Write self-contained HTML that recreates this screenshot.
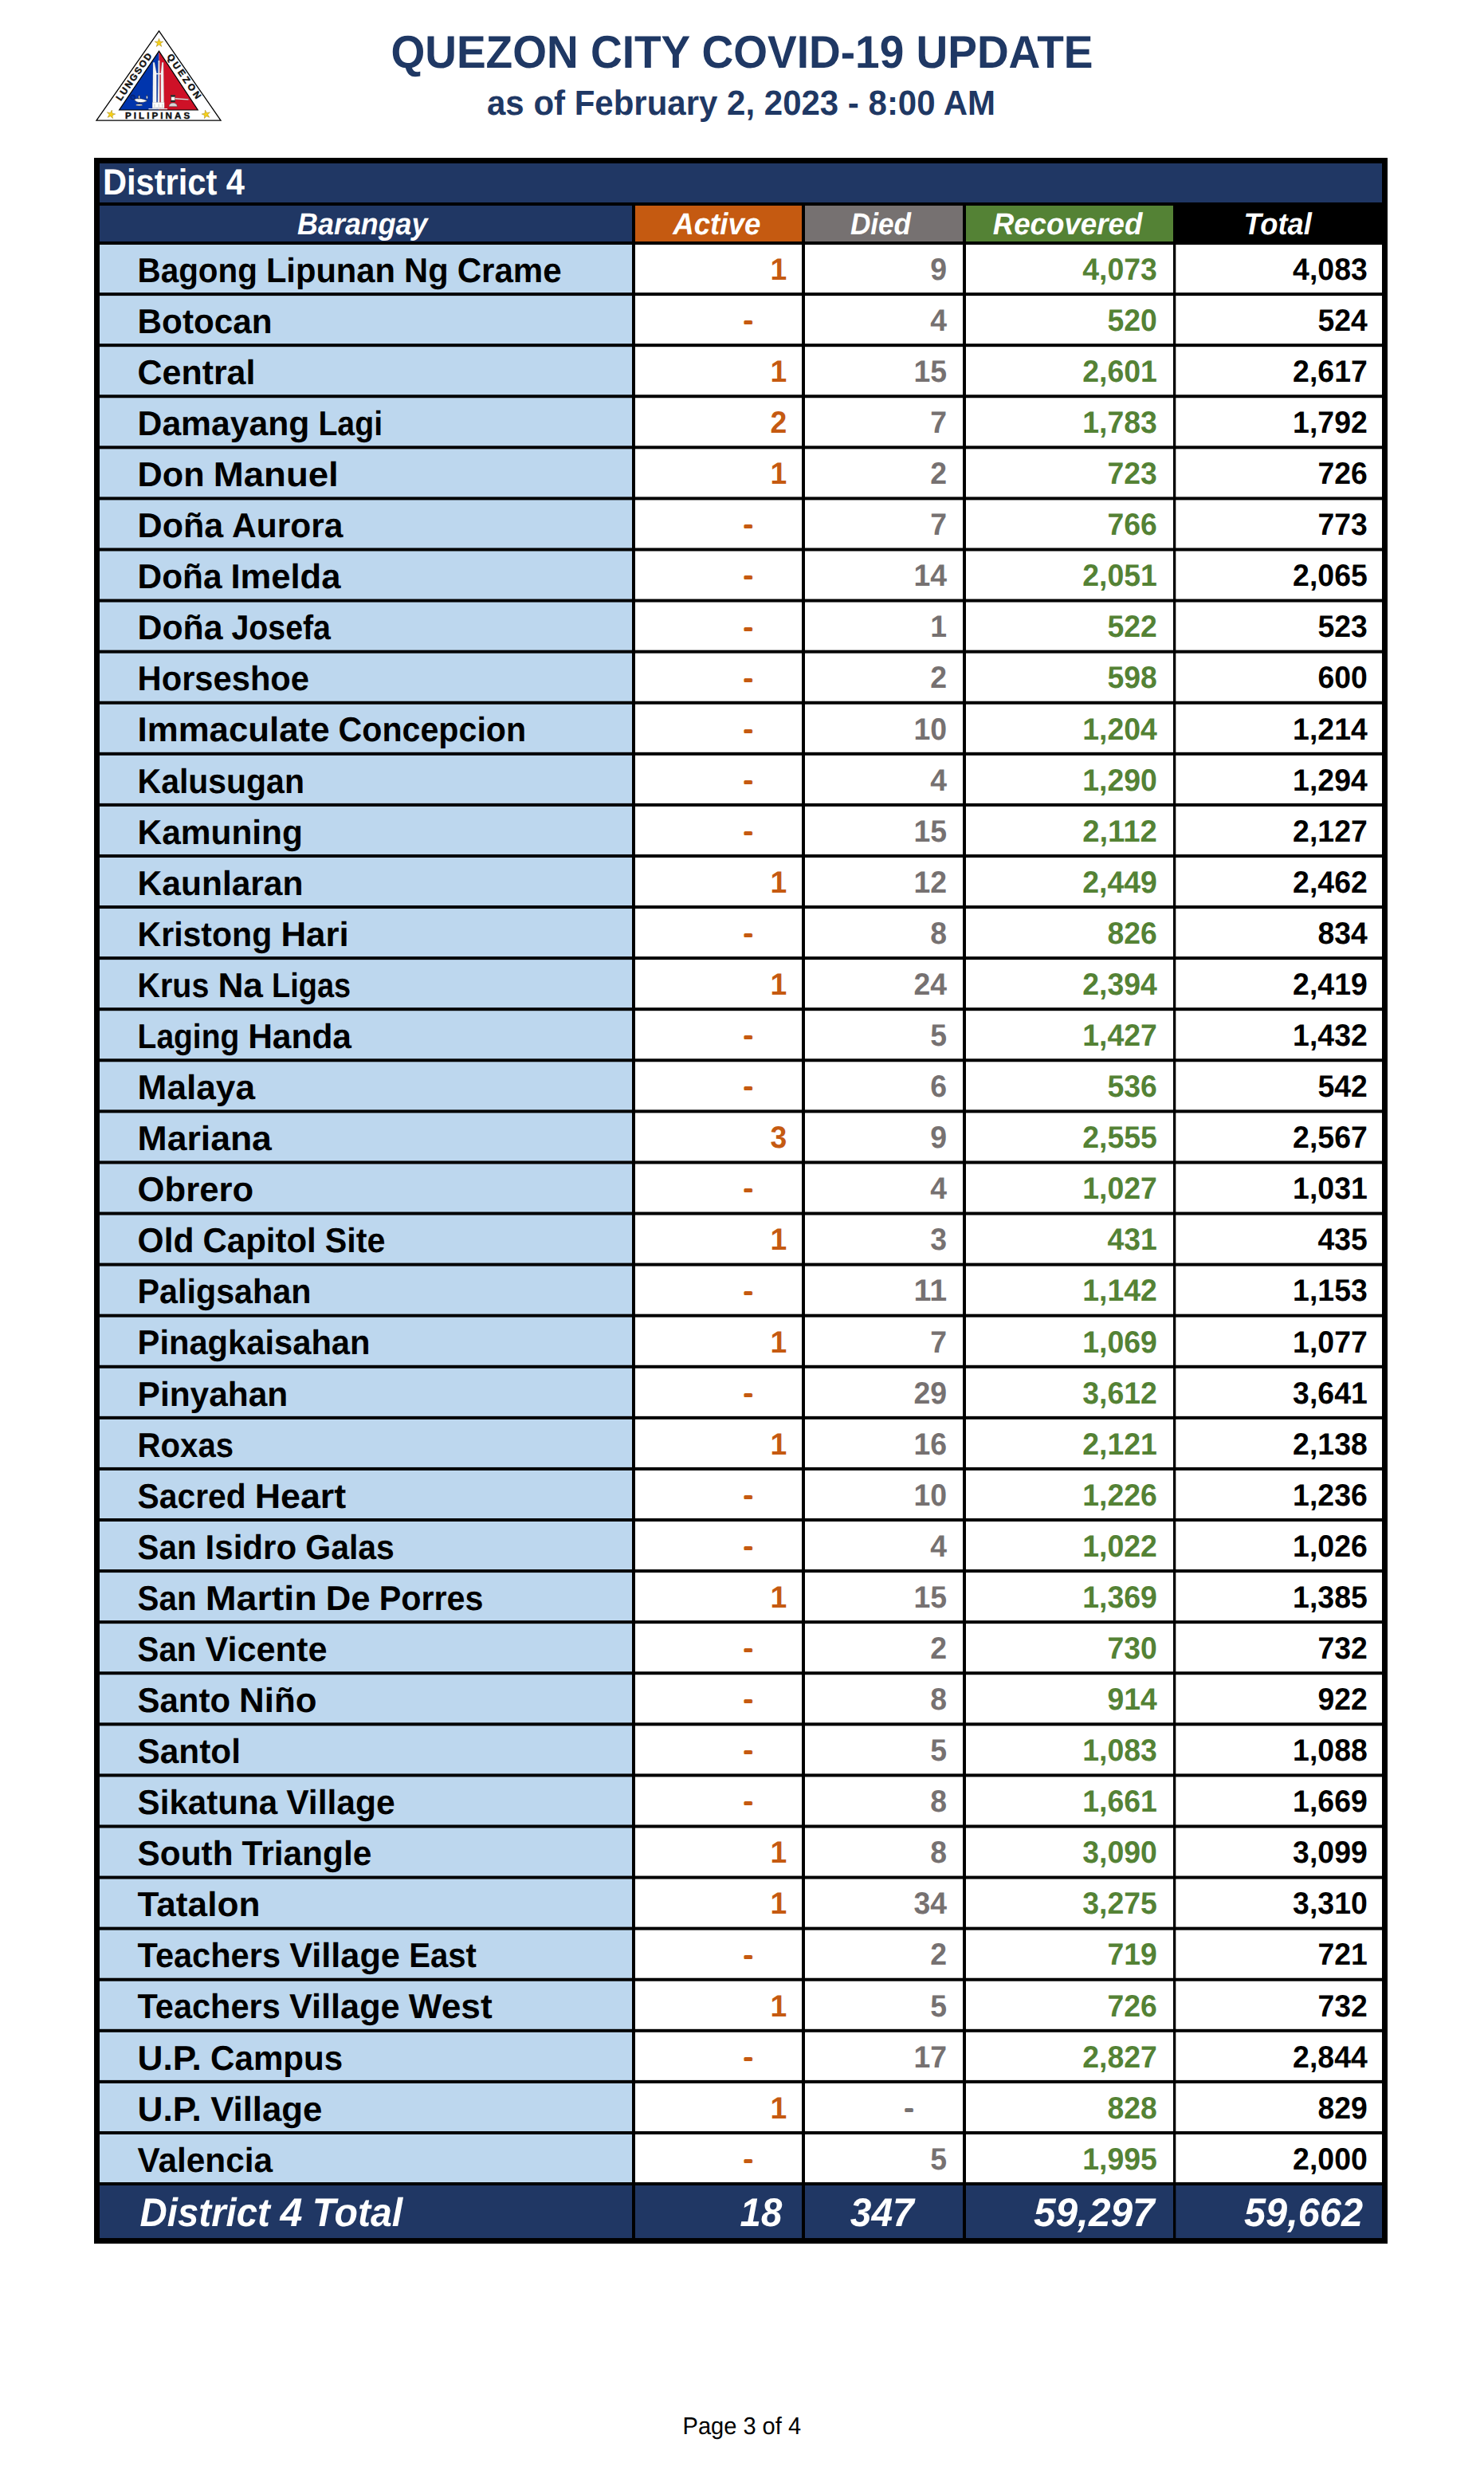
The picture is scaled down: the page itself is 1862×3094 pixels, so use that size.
<!DOCTYPE html>
<html lang="en">
<head>
<meta charset="utf-8">
<title>Quezon City COVID-19 Update - District 4</title>
<style>
html,body{margin:0;padding:0;background:#fff;}
body{width:1862px;height:3094px;overflow:hidden;}
svg{display:block;}
svg text{font-family:"Liberation Sans",sans-serif;font-weight:bold;white-space:pre;}
</style>
</head>
<body>
<svg width="1862" height="3094" viewBox="0 0 1862 3094" text-rendering="geometricPrecision">
<rect x="0" y="0" width="1862" height="3094" fill="#fff"/>
<g shape-rendering="geometricPrecision">
<polygon points="199.5,38.9 277.0,151.2 121.0,151.2" fill="#fff" stroke="#000" stroke-width="1.3" stroke-linejoin="miter"/>
<polygon points="199.5,64.2 199.5,138.0 149.6,138.0" fill="#0035AD"/>
<polygon points="199.5,64.2 248.2,138.0 199.5,138.0" fill="#CE1127"/>
<polygon points="199.5,64.2 248.2,138.0 149.6,138.0" fill="none" stroke="#000" stroke-width="1.2" stroke-linejoin="miter"/>
<g fill="#fff" stroke="#9a9a9a" stroke-width="0.35">
<polygon points="192.1,78.3 193.8,78.3 196.3,91 196.3,135.6 191.6,135.6"/>
<polygon points="198.6,75.9 200.3,75.9 200.3,135.6 197.8,135.6"/>
<polygon points="203.3,78.3 205.0,78.3 205.8,135.6 201.9,135.6 201.9,91"/>
</g>
<path d="M196,92.6 h6" stroke="#fff" stroke-width="1.4" fill="none"/>
<path d="M193.9,80 V134 M204.2,80 V134 M199.4,78 V134" stroke="#b8b8b8" stroke-width="0.35" fill="none"/>
<rect x="191.2" y="128.4" width="14.9" height="7.2" fill="#fff" stroke="#9a9a9a" stroke-width="0.3"/>
<path d="M194,130.5 v4 M199.2,130.5 v4 M203.8,130.5 v4" stroke="#bbb" stroke-width="0.8"/>
<rect x="186.4" y="136.0" width="23.6" height="1.2" fill="#e8e8f0"/>
<g stroke="#111" stroke-width="0.45" fill="#fff">
<circle cx="166.5" cy="121.9" r="2.9" fill="none" stroke="#0b0b2a" stroke-width="0.55"/>
<path d="M166.6,123.4 a1.5,1.5 0 1 1 1.4,-1.2" fill="none" stroke="#0b0b2a" stroke-width="0.4"/>
<path d="M168.6,124.9 C171,123.4 173,124.0 174.2,123.8 L175.6,123.8 C178,123.8 181,124.6 184.9,126.4 C182.6,127.4 180.6,128.5 176.6,128.6 C172.6,128.6 169.8,127.2 168.6,124.9 Z"/>
<rect x="173.7" y="120.0" width="1.8" height="3.9" fill="#ddd"/>
<path d="M174.7,128.6 L174.7,130.6" stroke="#111" stroke-width="0.9" fill="none"/>
<ellipse cx="174.7" cy="131.7" rx="4.2" ry="1.0"/>
<path d="M184.3,118.9 C185.6,120.8 185.6,123.0 184.4,124.4 C183.2,123.0 183.3,120.8 184.3,118.9 Z" stroke-width="0.3"/>
<path d="M184.3,118.9 L184.9,120.8 L183.8,120.8 Z" fill="#222" stroke="none"/>
</g>
<g stroke="#222" stroke-width="0.4">
<rect x="214.7" y="119.5" width="5.0" height="8.3" fill="#e8e8e8"/>
<rect x="214.7" y="119.5" width="5.0" height="1.8" fill="#222"/>
<rect x="214.7" y="126.0" width="5.0" height="1.8" fill="#222"/>
<rect x="215.5" y="122.1" width="3.4" height="3.1" fill="#fff" stroke="none"/>
<polygon points="219.7,122.9 236.4,124.2 236.4,125.4 219.7,124.5" fill="#eee" stroke="#888" stroke-width="0.3"/>
<path d="M211.8,133.7 C212.2,130.6 214.2,129.1 217.2,129.1 C220.2,129.1 222.1,130.6 222.5,133.7 Z" fill="#d6d6d6"/>
</g>
<polygon points="199.50,48.30 200.76,52.17 204.83,52.17 201.53,54.56 202.79,58.43 199.50,56.04 196.21,58.43 197.47,54.56 194.17,52.17 198.24,52.17" fill="#F7D117" stroke="#8a6d00" stroke-width="0.4"/>
<polygon points="140.36,138.12 140.79,142.17 144.77,143.01 141.05,144.67 141.48,148.72 138.76,145.69 135.04,147.35 137.07,143.82 134.35,140.80 138.33,141.65" fill="#F7D117" stroke="#8a6d00" stroke-width="0.4"/>
<polygon points="257.44,138.12 259.47,141.65 263.45,140.80 260.73,143.82 262.76,147.35 259.04,145.69 256.32,148.72 256.75,144.67 253.03,143.01 257.01,142.17" fill="#F7D117" stroke="#8a6d00" stroke-width="0.4"/>
<text x="156.9" y="149.0" font-size="11.6" fill="#111" stroke="#111" stroke-width="0.45" lengthAdjust="spacing" textLength="81.3">PILIPINAS</text>
<text transform="translate(151.5,127.3) rotate(-55.3)" x="0" y="0" font-size="11.7" fill="#111" stroke="#111" stroke-width="0.45" lengthAdjust="spacing" textLength="69.5">LUNGSOD</text>
<text transform="translate(208.9,71.1) rotate(55.3)" x="0" y="0" font-size="11.7" fill="#111" stroke="#111" stroke-width="0.45" lengthAdjust="spacing" textLength="65.5">QUEZON</text>
</g>
<rect x="118" y="198" width="1623" height="2617" fill="#000"/>
<rect x="125" y="205" width="1609" height="49" fill="#203764"/>
<rect x="125" y="258" width="668" height="45" fill="#203764"/>
<rect x="797" y="258" width="209" height="45" fill="#C55A11"/>
<rect x="1010" y="258" width="198" height="45" fill="#767171"/>
<rect x="1212" y="258" width="260" height="45" fill="#548235"/>
<rect x="125" y="307" width="668" height="60.08" fill="#BDD7EE"/>
<rect x="797" y="307" width="937" height="60.08" fill="#fff"/>
<rect x="125" y="371.08" width="668" height="60.08" fill="#BDD7EE"/>
<rect x="797" y="371.08" width="937" height="60.08" fill="#fff"/>
<rect x="125" y="435.16" width="668" height="60.08" fill="#BDD7EE"/>
<rect x="797" y="435.16" width="937" height="60.08" fill="#fff"/>
<rect x="125" y="499.24" width="668" height="60.08" fill="#BDD7EE"/>
<rect x="797" y="499.24" width="937" height="60.08" fill="#fff"/>
<rect x="125" y="563.32" width="668" height="60.08" fill="#BDD7EE"/>
<rect x="797" y="563.32" width="937" height="60.08" fill="#fff"/>
<rect x="125" y="627.4" width="668" height="60.08" fill="#BDD7EE"/>
<rect x="797" y="627.4" width="937" height="60.08" fill="#fff"/>
<rect x="125" y="691.48" width="668" height="60.08" fill="#BDD7EE"/>
<rect x="797" y="691.48" width="937" height="60.08" fill="#fff"/>
<rect x="125" y="755.56" width="668" height="60.08" fill="#BDD7EE"/>
<rect x="797" y="755.56" width="937" height="60.08" fill="#fff"/>
<rect x="125" y="819.64" width="668" height="60.08" fill="#BDD7EE"/>
<rect x="797" y="819.64" width="937" height="60.08" fill="#fff"/>
<rect x="125" y="883.72" width="668" height="60.08" fill="#BDD7EE"/>
<rect x="797" y="883.72" width="937" height="60.08" fill="#fff"/>
<rect x="125" y="947.8" width="668" height="60.08" fill="#BDD7EE"/>
<rect x="797" y="947.8" width="937" height="60.08" fill="#fff"/>
<rect x="125" y="1011.88" width="668" height="60.08" fill="#BDD7EE"/>
<rect x="797" y="1011.88" width="937" height="60.08" fill="#fff"/>
<rect x="125" y="1075.96" width="668" height="60.08" fill="#BDD7EE"/>
<rect x="797" y="1075.96" width="937" height="60.08" fill="#fff"/>
<rect x="125" y="1140.04" width="668" height="60.08" fill="#BDD7EE"/>
<rect x="797" y="1140.04" width="937" height="60.08" fill="#fff"/>
<rect x="125" y="1204.12" width="668" height="60.08" fill="#BDD7EE"/>
<rect x="797" y="1204.12" width="937" height="60.08" fill="#fff"/>
<rect x="125" y="1268.2" width="668" height="60.08" fill="#BDD7EE"/>
<rect x="797" y="1268.2" width="937" height="60.08" fill="#fff"/>
<rect x="125" y="1332.28" width="668" height="60.08" fill="#BDD7EE"/>
<rect x="797" y="1332.28" width="937" height="60.08" fill="#fff"/>
<rect x="125" y="1396.36" width="668" height="60.08" fill="#BDD7EE"/>
<rect x="797" y="1396.36" width="937" height="60.08" fill="#fff"/>
<rect x="125" y="1460.44" width="668" height="60.08" fill="#BDD7EE"/>
<rect x="797" y="1460.44" width="937" height="60.08" fill="#fff"/>
<rect x="125" y="1524.52" width="668" height="60.08" fill="#BDD7EE"/>
<rect x="797" y="1524.52" width="937" height="60.08" fill="#fff"/>
<rect x="125" y="1588.6" width="668" height="60.08" fill="#BDD7EE"/>
<rect x="797" y="1588.6" width="937" height="60.08" fill="#fff"/>
<rect x="125" y="1652.68" width="668" height="60.08" fill="#BDD7EE"/>
<rect x="797" y="1652.68" width="937" height="60.08" fill="#fff"/>
<rect x="125" y="1716.76" width="668" height="60.08" fill="#BDD7EE"/>
<rect x="797" y="1716.76" width="937" height="60.08" fill="#fff"/>
<rect x="125" y="1780.84" width="668" height="60.08" fill="#BDD7EE"/>
<rect x="797" y="1780.84" width="937" height="60.08" fill="#fff"/>
<rect x="125" y="1844.92" width="668" height="60.08" fill="#BDD7EE"/>
<rect x="797" y="1844.92" width="937" height="60.08" fill="#fff"/>
<rect x="125" y="1909" width="668" height="60.08" fill="#BDD7EE"/>
<rect x="797" y="1909" width="937" height="60.08" fill="#fff"/>
<rect x="125" y="1973.08" width="668" height="60.08" fill="#BDD7EE"/>
<rect x="797" y="1973.08" width="937" height="60.08" fill="#fff"/>
<rect x="125" y="2037.16" width="668" height="60.08" fill="#BDD7EE"/>
<rect x="797" y="2037.16" width="937" height="60.08" fill="#fff"/>
<rect x="125" y="2101.24" width="668" height="60.08" fill="#BDD7EE"/>
<rect x="797" y="2101.24" width="937" height="60.08" fill="#fff"/>
<rect x="125" y="2165.32" width="668" height="60.08" fill="#BDD7EE"/>
<rect x="797" y="2165.32" width="937" height="60.08" fill="#fff"/>
<rect x="125" y="2229.4" width="668" height="60.08" fill="#BDD7EE"/>
<rect x="797" y="2229.4" width="937" height="60.08" fill="#fff"/>
<rect x="125" y="2293.48" width="668" height="60.08" fill="#BDD7EE"/>
<rect x="797" y="2293.48" width="937" height="60.08" fill="#fff"/>
<rect x="125" y="2357.56" width="668" height="60.08" fill="#BDD7EE"/>
<rect x="797" y="2357.56" width="937" height="60.08" fill="#fff"/>
<rect x="125" y="2421.64" width="668" height="60.08" fill="#BDD7EE"/>
<rect x="797" y="2421.64" width="937" height="60.08" fill="#fff"/>
<rect x="125" y="2485.72" width="668" height="60.08" fill="#BDD7EE"/>
<rect x="797" y="2485.72" width="937" height="60.08" fill="#fff"/>
<rect x="125" y="2549.8" width="668" height="60.08" fill="#BDD7EE"/>
<rect x="797" y="2549.8" width="937" height="60.08" fill="#fff"/>
<rect x="125" y="2613.88" width="668" height="60.08" fill="#BDD7EE"/>
<rect x="797" y="2613.88" width="937" height="60.08" fill="#fff"/>
<rect x="125" y="2677.96" width="668" height="60.04" fill="#BDD7EE"/>
<rect x="797" y="2677.96" width="937" height="60.04" fill="#fff"/>
<rect x="1006" y="307" width="4" height="2431" fill="#000"/>
<rect x="1208" y="307" width="4" height="2431" fill="#000"/>
<rect x="1472" y="307" width="3.3" height="2431" fill="#000"/>
<rect x="125" y="2742" width="668" height="66" fill="#203764"/>
<rect x="797" y="2742" width="209" height="66" fill="#203764"/>
<rect x="1010" y="2742" width="198" height="66" fill="#203764"/>
<rect x="1212" y="2742" width="260" height="66" fill="#203764"/>
<rect x="1475.3" y="2742" width="258.7" height="66" fill="#203764"/>
<text x="931.0" y="85.0" font-size="57.56" fill="#1F3864" text-anchor="middle" textLength="881.1" lengthAdjust="spacingAndGlyphs">QUEZON CITY COVID-19 UPDATE</text>
<text x="930.0" y="143.5" font-size="43.75" fill="#1F3864" text-anchor="middle" textLength="638.0" lengthAdjust="spacingAndGlyphs">as of February 2, 2023 - 8:00 AM</text>
<text x="128.9" y="244.2" font-size="45.64" fill="#fff" textLength="178.1" lengthAdjust="spacingAndGlyphs">District 4</text>
<text x="454.8" y="293.5" font-size="38.23" fill="#fff" font-style="italic" text-anchor="middle" textLength="163.4" lengthAdjust="spacingAndGlyphs">Barangay</text>
<text x="899.3" y="293.5" font-size="38.23" fill="#fff" font-style="italic" text-anchor="middle" textLength="110.2" lengthAdjust="spacingAndGlyphs">Active</text>
<text x="1105.0" y="293.5" font-size="38.23" fill="#fff" font-style="italic" text-anchor="middle" textLength="76.1" lengthAdjust="spacingAndGlyphs">Died</text>
<text x="1339.5" y="293.5" font-size="38.23" fill="#fff" font-style="italic" text-anchor="middle" textLength="187.7" lengthAdjust="spacingAndGlyphs">Recovered</text>
<text x="1603.2" y="293.5" font-size="38.23" fill="#fff" font-style="italic" text-anchor="middle" textLength="85.4" lengthAdjust="spacingAndGlyphs">Total</text>
<text y="353.7" font-size="43.17" fill="#000"><tspan x="172.6" textLength="150.2" lengthAdjust="spacingAndGlyphs">Bagong</tspan> <tspan x="333.9" textLength="162.1" lengthAdjust="spacingAndGlyphs">Lipunan</tspan> <tspan x="507.1" textLength="55.5" lengthAdjust="spacingAndGlyphs">Ng</tspan> <tspan x="573.7" textLength="131.0" lengthAdjust="spacingAndGlyphs">Crame</tspan></text>
<text x="987.2" y="350.8" font-size="38.68" fill="#C55A11" text-anchor="end" textLength="20.8" lengthAdjust="spacingAndGlyphs">1</text>
<text x="1188.1" y="350.8" font-size="38.68" fill="#767171" text-anchor="end" textLength="20.8" lengthAdjust="spacingAndGlyphs">9</text>
<text x="1451.9" y="350.8" font-size="38.68" fill="#548235" text-anchor="end" textLength="93.7" lengthAdjust="spacingAndGlyphs">4,073</text>
<text x="1715.8" y="350.8" font-size="38.68" fill="#000" text-anchor="end" textLength="93.7" lengthAdjust="spacingAndGlyphs">4,083</text>
<text x="172.6" y="417.8" font-size="43.17" fill="#000" textLength="168.9" lengthAdjust="spacingAndGlyphs">Botocan</text>
<text x="938.8" y="410.0" font-size="21" fill="#C55A11" stroke="#C55A11" stroke-width="2.4" stroke-linejoin="round" text-anchor="middle" textLength="9.6" lengthAdjust="spacingAndGlyphs">-</text>
<text x="1188.1" y="414.9" font-size="38.68" fill="#767171" text-anchor="end" textLength="20.8" lengthAdjust="spacingAndGlyphs">4</text>
<text x="1451.9" y="414.9" font-size="38.68" fill="#548235" text-anchor="end" textLength="62.3" lengthAdjust="spacingAndGlyphs">520</text>
<text x="1715.8" y="414.9" font-size="38.68" fill="#000" text-anchor="end" textLength="62.3" lengthAdjust="spacingAndGlyphs">524</text>
<text x="172.6" y="481.9" font-size="43.17" fill="#000" textLength="147.8" lengthAdjust="spacingAndGlyphs">Central</text>
<text x="987.2" y="479.0" font-size="38.68" fill="#C55A11" text-anchor="end" textLength="20.8" lengthAdjust="spacingAndGlyphs">1</text>
<text x="1188.1" y="479.0" font-size="38.68" fill="#767171" text-anchor="end" textLength="41.6" lengthAdjust="spacingAndGlyphs">15</text>
<text x="1451.9" y="479.0" font-size="38.68" fill="#548235" text-anchor="end" textLength="93.7" lengthAdjust="spacingAndGlyphs">2,601</text>
<text x="1715.8" y="479.0" font-size="38.68" fill="#000" text-anchor="end" textLength="93.7" lengthAdjust="spacingAndGlyphs">2,617</text>
<text y="545.9" font-size="43.17" fill="#000"><tspan x="172.6" textLength="215.7" lengthAdjust="spacingAndGlyphs">Damayang</tspan> <tspan x="399.4" textLength="80.7" lengthAdjust="spacingAndGlyphs">Lagi</tspan></text>
<text x="987.2" y="543.0" font-size="38.68" fill="#C55A11" text-anchor="end" textLength="20.8" lengthAdjust="spacingAndGlyphs">2</text>
<text x="1188.1" y="543.0" font-size="38.68" fill="#767171" text-anchor="end" textLength="20.8" lengthAdjust="spacingAndGlyphs">7</text>
<text x="1451.9" y="543.0" font-size="38.68" fill="#548235" text-anchor="end" textLength="93.7" lengthAdjust="spacingAndGlyphs">1,783</text>
<text x="1715.8" y="543.0" font-size="38.68" fill="#000" text-anchor="end" textLength="93.7" lengthAdjust="spacingAndGlyphs">1,792</text>
<text y="610.0" font-size="43.17" fill="#000"><tspan x="172.6" textLength="84.0" lengthAdjust="spacingAndGlyphs">Don</tspan> <tspan x="267.7" textLength="157.1" lengthAdjust="spacingAndGlyphs">Manuel</tspan></text>
<text x="987.2" y="607.1" font-size="38.68" fill="#C55A11" text-anchor="end" textLength="20.8" lengthAdjust="spacingAndGlyphs">1</text>
<text x="1188.1" y="607.1" font-size="38.68" fill="#767171" text-anchor="end" textLength="20.8" lengthAdjust="spacingAndGlyphs">2</text>
<text x="1451.9" y="607.1" font-size="38.68" fill="#548235" text-anchor="end" textLength="62.3" lengthAdjust="spacingAndGlyphs">723</text>
<text x="1715.8" y="607.1" font-size="38.68" fill="#000" text-anchor="end" textLength="62.3" lengthAdjust="spacingAndGlyphs">726</text>
<text y="674.1" font-size="43.17" fill="#000"><tspan x="172.6" textLength="107.5" lengthAdjust="spacingAndGlyphs">Doña</tspan> <tspan x="291.1" textLength="139.3" lengthAdjust="spacingAndGlyphs">Aurora</tspan></text>
<text x="938.8" y="666.3" font-size="21" fill="#C55A11" stroke="#C55A11" stroke-width="2.4" stroke-linejoin="round" text-anchor="middle" textLength="9.6" lengthAdjust="spacingAndGlyphs">-</text>
<text x="1188.1" y="671.2" font-size="38.68" fill="#767171" text-anchor="end" textLength="20.8" lengthAdjust="spacingAndGlyphs">7</text>
<text x="1451.9" y="671.2" font-size="38.68" fill="#548235" text-anchor="end" textLength="62.3" lengthAdjust="spacingAndGlyphs">766</text>
<text x="1715.8" y="671.2" font-size="38.68" fill="#000" text-anchor="end" textLength="62.3" lengthAdjust="spacingAndGlyphs">773</text>
<text y="738.2" font-size="43.17" fill="#000"><tspan x="172.6" textLength="106.0" lengthAdjust="spacingAndGlyphs">Doña</tspan> <tspan x="289.5" textLength="137.9" lengthAdjust="spacingAndGlyphs">Imelda</tspan></text>
<text x="938.8" y="730.4" font-size="21" fill="#C55A11" stroke="#C55A11" stroke-width="2.4" stroke-linejoin="round" text-anchor="middle" textLength="9.6" lengthAdjust="spacingAndGlyphs">-</text>
<text x="1188.1" y="735.3" font-size="38.68" fill="#767171" text-anchor="end" textLength="41.6" lengthAdjust="spacingAndGlyphs">14</text>
<text x="1451.9" y="735.3" font-size="38.68" fill="#548235" text-anchor="end" textLength="93.7" lengthAdjust="spacingAndGlyphs">2,051</text>
<text x="1715.8" y="735.3" font-size="38.68" fill="#000" text-anchor="end" textLength="93.7" lengthAdjust="spacingAndGlyphs">2,065</text>
<text y="802.3" font-size="43.17" fill="#000"><tspan x="172.6" textLength="106.9" lengthAdjust="spacingAndGlyphs">Doña</tspan> <tspan x="290.5" textLength="124.4" lengthAdjust="spacingAndGlyphs">Josefa</tspan></text>
<text x="938.8" y="794.5" font-size="21" fill="#C55A11" stroke="#C55A11" stroke-width="2.4" stroke-linejoin="round" text-anchor="middle" textLength="9.6" lengthAdjust="spacingAndGlyphs">-</text>
<text x="1188.1" y="799.4" font-size="38.68" fill="#767171" text-anchor="end" textLength="20.8" lengthAdjust="spacingAndGlyphs">1</text>
<text x="1451.9" y="799.4" font-size="38.68" fill="#548235" text-anchor="end" textLength="62.3" lengthAdjust="spacingAndGlyphs">522</text>
<text x="1715.8" y="799.4" font-size="38.68" fill="#000" text-anchor="end" textLength="62.3" lengthAdjust="spacingAndGlyphs">523</text>
<text x="172.6" y="866.3" font-size="43.17" fill="#000" textLength="215.4" lengthAdjust="spacingAndGlyphs">Horseshoe</text>
<text x="938.8" y="858.5" font-size="21" fill="#C55A11" stroke="#C55A11" stroke-width="2.4" stroke-linejoin="round" text-anchor="middle" textLength="9.6" lengthAdjust="spacingAndGlyphs">-</text>
<text x="1188.1" y="863.4" font-size="38.68" fill="#767171" text-anchor="end" textLength="20.8" lengthAdjust="spacingAndGlyphs">2</text>
<text x="1451.9" y="863.4" font-size="38.68" fill="#548235" text-anchor="end" textLength="62.3" lengthAdjust="spacingAndGlyphs">598</text>
<text x="1715.8" y="863.4" font-size="38.68" fill="#000" text-anchor="end" textLength="62.3" lengthAdjust="spacingAndGlyphs">600</text>
<text y="930.4" font-size="43.17" fill="#000"><tspan x="172.6" textLength="240.9" lengthAdjust="spacingAndGlyphs">Immaculate</tspan> <tspan x="424.6" textLength="235.5" lengthAdjust="spacingAndGlyphs">Concepcion</tspan></text>
<text x="938.8" y="922.6" font-size="21" fill="#C55A11" stroke="#C55A11" stroke-width="2.4" stroke-linejoin="round" text-anchor="middle" textLength="9.6" lengthAdjust="spacingAndGlyphs">-</text>
<text x="1188.1" y="927.5" font-size="38.68" fill="#767171" text-anchor="end" textLength="41.6" lengthAdjust="spacingAndGlyphs">10</text>
<text x="1451.9" y="927.5" font-size="38.68" fill="#548235" text-anchor="end" textLength="93.7" lengthAdjust="spacingAndGlyphs">1,204</text>
<text x="1715.8" y="927.5" font-size="38.68" fill="#000" text-anchor="end" textLength="93.7" lengthAdjust="spacingAndGlyphs">1,214</text>
<text x="172.6" y="994.5" font-size="43.17" fill="#000" textLength="209.3" lengthAdjust="spacingAndGlyphs">Kalusugan</text>
<text x="938.8" y="986.7" font-size="21" fill="#C55A11" stroke="#C55A11" stroke-width="2.4" stroke-linejoin="round" text-anchor="middle" textLength="9.6" lengthAdjust="spacingAndGlyphs">-</text>
<text x="1188.1" y="991.6" font-size="38.68" fill="#767171" text-anchor="end" textLength="20.8" lengthAdjust="spacingAndGlyphs">4</text>
<text x="1451.9" y="991.6" font-size="38.68" fill="#548235" text-anchor="end" textLength="93.7" lengthAdjust="spacingAndGlyphs">1,290</text>
<text x="1715.8" y="991.6" font-size="38.68" fill="#000" text-anchor="end" textLength="93.7" lengthAdjust="spacingAndGlyphs">1,294</text>
<text x="172.6" y="1058.6" font-size="43.17" fill="#000" textLength="207.3" lengthAdjust="spacingAndGlyphs">Kamuning</text>
<text x="938.8" y="1050.8" font-size="21" fill="#C55A11" stroke="#C55A11" stroke-width="2.4" stroke-linejoin="round" text-anchor="middle" textLength="9.6" lengthAdjust="spacingAndGlyphs">-</text>
<text x="1188.1" y="1055.7" font-size="38.68" fill="#767171" text-anchor="end" textLength="41.6" lengthAdjust="spacingAndGlyphs">15</text>
<text x="1451.9" y="1055.7" font-size="38.68" fill="#548235" text-anchor="end" textLength="93.7" lengthAdjust="spacingAndGlyphs">2,112</text>
<text x="1715.8" y="1055.7" font-size="38.68" fill="#000" text-anchor="end" textLength="93.7" lengthAdjust="spacingAndGlyphs">2,127</text>
<text x="172.6" y="1122.7" font-size="43.17" fill="#000" textLength="207.9" lengthAdjust="spacingAndGlyphs">Kaunlaran</text>
<text x="987.2" y="1119.8" font-size="38.68" fill="#C55A11" text-anchor="end" textLength="20.8" lengthAdjust="spacingAndGlyphs">1</text>
<text x="1188.1" y="1119.8" font-size="38.68" fill="#767171" text-anchor="end" textLength="41.6" lengthAdjust="spacingAndGlyphs">12</text>
<text x="1451.9" y="1119.8" font-size="38.68" fill="#548235" text-anchor="end" textLength="93.7" lengthAdjust="spacingAndGlyphs">2,449</text>
<text x="1715.8" y="1119.8" font-size="38.68" fill="#000" text-anchor="end" textLength="93.7" lengthAdjust="spacingAndGlyphs">2,462</text>
<text y="1186.7" font-size="43.17" fill="#000"><tspan x="172.6" textLength="168.6" lengthAdjust="spacingAndGlyphs">Kristong</tspan> <tspan x="352.4" textLength="85.3" lengthAdjust="spacingAndGlyphs">Hari</tspan></text>
<text x="938.8" y="1178.9" font-size="21" fill="#C55A11" stroke="#C55A11" stroke-width="2.4" stroke-linejoin="round" text-anchor="middle" textLength="9.6" lengthAdjust="spacingAndGlyphs">-</text>
<text x="1188.1" y="1183.8" font-size="38.68" fill="#767171" text-anchor="end" textLength="20.8" lengthAdjust="spacingAndGlyphs">8</text>
<text x="1451.9" y="1183.8" font-size="38.68" fill="#548235" text-anchor="end" textLength="62.3" lengthAdjust="spacingAndGlyphs">826</text>
<text x="1715.8" y="1183.8" font-size="38.68" fill="#000" text-anchor="end" textLength="62.3" lengthAdjust="spacingAndGlyphs">834</text>
<text y="1250.8" font-size="43.17" fill="#000"><tspan x="172.6" textLength="89.7" lengthAdjust="spacingAndGlyphs">Krus</tspan> <tspan x="273.4" textLength="56.6" lengthAdjust="spacingAndGlyphs">Na</tspan> <tspan x="341.0" textLength="99.1" lengthAdjust="spacingAndGlyphs">Ligas</tspan></text>
<text x="987.2" y="1247.9" font-size="38.68" fill="#C55A11" text-anchor="end" textLength="20.8" lengthAdjust="spacingAndGlyphs">1</text>
<text x="1188.1" y="1247.9" font-size="38.68" fill="#767171" text-anchor="end" textLength="41.6" lengthAdjust="spacingAndGlyphs">24</text>
<text x="1451.9" y="1247.9" font-size="38.68" fill="#548235" text-anchor="end" textLength="93.7" lengthAdjust="spacingAndGlyphs">2,394</text>
<text x="1715.8" y="1247.9" font-size="38.68" fill="#000" text-anchor="end" textLength="93.7" lengthAdjust="spacingAndGlyphs">2,419</text>
<text y="1314.9" font-size="43.17" fill="#000"><tspan x="172.6" textLength="127.7" lengthAdjust="spacingAndGlyphs">Laging</tspan> <tspan x="311.2" textLength="129.8" lengthAdjust="spacingAndGlyphs">Handa</tspan></text>
<text x="938.8" y="1307.1" font-size="21" fill="#C55A11" stroke="#C55A11" stroke-width="2.4" stroke-linejoin="round" text-anchor="middle" textLength="9.6" lengthAdjust="spacingAndGlyphs">-</text>
<text x="1188.1" y="1312.0" font-size="38.68" fill="#767171" text-anchor="end" textLength="20.8" lengthAdjust="spacingAndGlyphs">5</text>
<text x="1451.9" y="1312.0" font-size="38.68" fill="#548235" text-anchor="end" textLength="93.7" lengthAdjust="spacingAndGlyphs">1,427</text>
<text x="1715.8" y="1312.0" font-size="38.68" fill="#000" text-anchor="end" textLength="93.7" lengthAdjust="spacingAndGlyphs">1,432</text>
<text x="172.6" y="1379.0" font-size="43.17" fill="#000" textLength="147.4" lengthAdjust="spacingAndGlyphs">Malaya</text>
<text x="938.8" y="1371.2" font-size="21" fill="#C55A11" stroke="#C55A11" stroke-width="2.4" stroke-linejoin="round" text-anchor="middle" textLength="9.6" lengthAdjust="spacingAndGlyphs">-</text>
<text x="1188.1" y="1376.1" font-size="38.68" fill="#767171" text-anchor="end" textLength="20.8" lengthAdjust="spacingAndGlyphs">6</text>
<text x="1451.9" y="1376.1" font-size="38.68" fill="#548235" text-anchor="end" textLength="62.3" lengthAdjust="spacingAndGlyphs">536</text>
<text x="1715.8" y="1376.1" font-size="38.68" fill="#000" text-anchor="end" textLength="62.3" lengthAdjust="spacingAndGlyphs">542</text>
<text x="172.6" y="1443.1" font-size="43.17" fill="#000" textLength="168.3" lengthAdjust="spacingAndGlyphs">Mariana</text>
<text x="987.2" y="1440.2" font-size="38.68" fill="#C55A11" text-anchor="end" textLength="20.8" lengthAdjust="spacingAndGlyphs">3</text>
<text x="1188.1" y="1440.2" font-size="38.68" fill="#767171" text-anchor="end" textLength="20.8" lengthAdjust="spacingAndGlyphs">9</text>
<text x="1451.9" y="1440.2" font-size="38.68" fill="#548235" text-anchor="end" textLength="93.7" lengthAdjust="spacingAndGlyphs">2,555</text>
<text x="1715.8" y="1440.2" font-size="38.68" fill="#000" text-anchor="end" textLength="93.7" lengthAdjust="spacingAndGlyphs">2,567</text>
<text x="172.6" y="1507.1" font-size="43.17" fill="#000" textLength="145.5" lengthAdjust="spacingAndGlyphs">Obrero</text>
<text x="938.8" y="1499.3" font-size="21" fill="#C55A11" stroke="#C55A11" stroke-width="2.4" stroke-linejoin="round" text-anchor="middle" textLength="9.6" lengthAdjust="spacingAndGlyphs">-</text>
<text x="1188.1" y="1504.2" font-size="38.68" fill="#767171" text-anchor="end" textLength="20.8" lengthAdjust="spacingAndGlyphs">4</text>
<text x="1451.9" y="1504.2" font-size="38.68" fill="#548235" text-anchor="end" textLength="93.7" lengthAdjust="spacingAndGlyphs">1,027</text>
<text x="1715.8" y="1504.2" font-size="38.68" fill="#000" text-anchor="end" textLength="93.7" lengthAdjust="spacingAndGlyphs">1,031</text>
<text y="1571.2" font-size="43.17" fill="#000"><tspan x="172.6" textLength="70.9" lengthAdjust="spacingAndGlyphs">Old</tspan> <tspan x="254.5" textLength="142.2" lengthAdjust="spacingAndGlyphs">Capitol</tspan> <tspan x="407.7" textLength="75.7" lengthAdjust="spacingAndGlyphs">Site</tspan></text>
<text x="987.2" y="1568.3" font-size="38.68" fill="#C55A11" text-anchor="end" textLength="20.8" lengthAdjust="spacingAndGlyphs">1</text>
<text x="1188.1" y="1568.3" font-size="38.68" fill="#767171" text-anchor="end" textLength="20.8" lengthAdjust="spacingAndGlyphs">3</text>
<text x="1451.9" y="1568.3" font-size="38.68" fill="#548235" text-anchor="end" textLength="62.3" lengthAdjust="spacingAndGlyphs">431</text>
<text x="1715.8" y="1568.3" font-size="38.68" fill="#000" text-anchor="end" textLength="62.3" lengthAdjust="spacingAndGlyphs">435</text>
<text x="172.6" y="1635.3" font-size="43.17" fill="#000" textLength="217.8" lengthAdjust="spacingAndGlyphs">Paligsahan</text>
<text x="938.8" y="1627.5" font-size="21" fill="#C55A11" stroke="#C55A11" stroke-width="2.4" stroke-linejoin="round" text-anchor="middle" textLength="9.6" lengthAdjust="spacingAndGlyphs">-</text>
<text x="1188.1" y="1632.4" font-size="38.68" fill="#767171" text-anchor="end" textLength="41.6" lengthAdjust="spacingAndGlyphs">11</text>
<text x="1451.9" y="1632.4" font-size="38.68" fill="#548235" text-anchor="end" textLength="93.7" lengthAdjust="spacingAndGlyphs">1,142</text>
<text x="1715.8" y="1632.4" font-size="38.68" fill="#000" text-anchor="end" textLength="93.7" lengthAdjust="spacingAndGlyphs">1,153</text>
<text x="172.6" y="1699.4" font-size="43.17" fill="#000" textLength="291.9" lengthAdjust="spacingAndGlyphs">Pinagkaisahan</text>
<text x="987.2" y="1696.5" font-size="38.68" fill="#C55A11" text-anchor="end" textLength="20.8" lengthAdjust="spacingAndGlyphs">1</text>
<text x="1188.1" y="1696.5" font-size="38.68" fill="#767171" text-anchor="end" textLength="20.8" lengthAdjust="spacingAndGlyphs">7</text>
<text x="1451.9" y="1696.5" font-size="38.68" fill="#548235" text-anchor="end" textLength="93.7" lengthAdjust="spacingAndGlyphs">1,069</text>
<text x="1715.8" y="1696.5" font-size="38.68" fill="#000" text-anchor="end" textLength="93.7" lengthAdjust="spacingAndGlyphs">1,077</text>
<text x="172.6" y="1763.5" font-size="43.17" fill="#000" textLength="188.7" lengthAdjust="spacingAndGlyphs">Pinyahan</text>
<text x="938.8" y="1755.7" font-size="21" fill="#C55A11" stroke="#C55A11" stroke-width="2.4" stroke-linejoin="round" text-anchor="middle" textLength="9.6" lengthAdjust="spacingAndGlyphs">-</text>
<text x="1188.1" y="1760.6" font-size="38.68" fill="#767171" text-anchor="end" textLength="41.6" lengthAdjust="spacingAndGlyphs">29</text>
<text x="1451.9" y="1760.6" font-size="38.68" fill="#548235" text-anchor="end" textLength="93.7" lengthAdjust="spacingAndGlyphs">3,612</text>
<text x="1715.8" y="1760.6" font-size="38.68" fill="#000" text-anchor="end" textLength="93.7" lengthAdjust="spacingAndGlyphs">3,641</text>
<text x="172.6" y="1827.5" font-size="43.17" fill="#000" textLength="120.5" lengthAdjust="spacingAndGlyphs">Roxas</text>
<text x="987.2" y="1824.6" font-size="38.68" fill="#C55A11" text-anchor="end" textLength="20.8" lengthAdjust="spacingAndGlyphs">1</text>
<text x="1188.1" y="1824.6" font-size="38.68" fill="#767171" text-anchor="end" textLength="41.6" lengthAdjust="spacingAndGlyphs">16</text>
<text x="1451.9" y="1824.6" font-size="38.68" fill="#548235" text-anchor="end" textLength="93.7" lengthAdjust="spacingAndGlyphs">2,121</text>
<text x="1715.8" y="1824.6" font-size="38.68" fill="#000" text-anchor="end" textLength="93.7" lengthAdjust="spacingAndGlyphs">2,138</text>
<text y="1891.6" font-size="43.17" fill="#000"><tspan x="172.6" textLength="136.0" lengthAdjust="spacingAndGlyphs">Sacred</tspan> <tspan x="319.7" textLength="114.4" lengthAdjust="spacingAndGlyphs">Heart</tspan></text>
<text x="938.8" y="1883.8" font-size="21" fill="#C55A11" stroke="#C55A11" stroke-width="2.4" stroke-linejoin="round" text-anchor="middle" textLength="9.6" lengthAdjust="spacingAndGlyphs">-</text>
<text x="1188.1" y="1888.7" font-size="38.68" fill="#767171" text-anchor="end" textLength="41.6" lengthAdjust="spacingAndGlyphs">10</text>
<text x="1451.9" y="1888.7" font-size="38.68" fill="#548235" text-anchor="end" textLength="93.7" lengthAdjust="spacingAndGlyphs">1,226</text>
<text x="1715.8" y="1888.7" font-size="38.68" fill="#000" text-anchor="end" textLength="93.7" lengthAdjust="spacingAndGlyphs">1,236</text>
<text y="1955.7" font-size="43.17" fill="#000"><tspan x="172.6" textLength="73.9" lengthAdjust="spacingAndGlyphs">San</tspan> <tspan x="257.6" textLength="114.5" lengthAdjust="spacingAndGlyphs">Isidro</tspan> <tspan x="383.3" textLength="111.6" lengthAdjust="spacingAndGlyphs">Galas</tspan></text>
<text x="938.8" y="1947.9" font-size="21" fill="#C55A11" stroke="#C55A11" stroke-width="2.4" stroke-linejoin="round" text-anchor="middle" textLength="9.6" lengthAdjust="spacingAndGlyphs">-</text>
<text x="1188.1" y="1952.8" font-size="38.68" fill="#767171" text-anchor="end" textLength="20.8" lengthAdjust="spacingAndGlyphs">4</text>
<text x="1451.9" y="1952.8" font-size="38.68" fill="#548235" text-anchor="end" textLength="93.7" lengthAdjust="spacingAndGlyphs">1,022</text>
<text x="1715.8" y="1952.8" font-size="38.68" fill="#000" text-anchor="end" textLength="93.7" lengthAdjust="spacingAndGlyphs">1,026</text>
<text y="2019.8" font-size="43.17" fill="#000"><tspan x="172.6" textLength="73.9" lengthAdjust="spacingAndGlyphs">San</tspan> <tspan x="257.7" textLength="140.0" lengthAdjust="spacingAndGlyphs">Martin</tspan> <tspan x="408.8" textLength="55.8" lengthAdjust="spacingAndGlyphs">De</tspan> <tspan x="475.7" textLength="130.7" lengthAdjust="spacingAndGlyphs">Porres</tspan></text>
<text x="987.2" y="2016.9" font-size="38.68" fill="#C55A11" text-anchor="end" textLength="20.8" lengthAdjust="spacingAndGlyphs">1</text>
<text x="1188.1" y="2016.9" font-size="38.68" fill="#767171" text-anchor="end" textLength="41.6" lengthAdjust="spacingAndGlyphs">15</text>
<text x="1451.9" y="2016.9" font-size="38.68" fill="#548235" text-anchor="end" textLength="93.7" lengthAdjust="spacingAndGlyphs">1,369</text>
<text x="1715.8" y="2016.9" font-size="38.68" fill="#000" text-anchor="end" textLength="93.7" lengthAdjust="spacingAndGlyphs">1,385</text>
<text y="2083.9" font-size="43.17" fill="#000"><tspan x="172.6" textLength="73.7" lengthAdjust="spacingAndGlyphs">San</tspan> <tspan x="257.4" textLength="153.1" lengthAdjust="spacingAndGlyphs">Vicente</tspan></text>
<text x="938.8" y="2076.1" font-size="21" fill="#C55A11" stroke="#C55A11" stroke-width="2.4" stroke-linejoin="round" text-anchor="middle" textLength="9.6" lengthAdjust="spacingAndGlyphs">-</text>
<text x="1188.1" y="2081.0" font-size="38.68" fill="#767171" text-anchor="end" textLength="20.8" lengthAdjust="spacingAndGlyphs">2</text>
<text x="1451.9" y="2081.0" font-size="38.68" fill="#548235" text-anchor="end" textLength="62.3" lengthAdjust="spacingAndGlyphs">730</text>
<text x="1715.8" y="2081.0" font-size="38.68" fill="#000" text-anchor="end" textLength="62.3" lengthAdjust="spacingAndGlyphs">732</text>
<text y="2147.9" font-size="43.17" fill="#000"><tspan x="172.6" textLength="116.4" lengthAdjust="spacingAndGlyphs">Santo</tspan> <tspan x="300.1" textLength="97.3" lengthAdjust="spacingAndGlyphs">Niño</tspan></text>
<text x="938.8" y="2140.1" font-size="21" fill="#C55A11" stroke="#C55A11" stroke-width="2.4" stroke-linejoin="round" text-anchor="middle" textLength="9.6" lengthAdjust="spacingAndGlyphs">-</text>
<text x="1188.1" y="2145.0" font-size="38.68" fill="#767171" text-anchor="end" textLength="20.8" lengthAdjust="spacingAndGlyphs">8</text>
<text x="1451.9" y="2145.0" font-size="38.68" fill="#548235" text-anchor="end" textLength="62.3" lengthAdjust="spacingAndGlyphs">914</text>
<text x="1715.8" y="2145.0" font-size="38.68" fill="#000" text-anchor="end" textLength="62.3" lengthAdjust="spacingAndGlyphs">922</text>
<text x="172.6" y="2212.0" font-size="43.17" fill="#000" textLength="129.3" lengthAdjust="spacingAndGlyphs">Santol</text>
<text x="938.8" y="2204.2" font-size="21" fill="#C55A11" stroke="#C55A11" stroke-width="2.4" stroke-linejoin="round" text-anchor="middle" textLength="9.6" lengthAdjust="spacingAndGlyphs">-</text>
<text x="1188.1" y="2209.1" font-size="38.68" fill="#767171" text-anchor="end" textLength="20.8" lengthAdjust="spacingAndGlyphs">5</text>
<text x="1451.9" y="2209.1" font-size="38.68" fill="#548235" text-anchor="end" textLength="93.7" lengthAdjust="spacingAndGlyphs">1,083</text>
<text x="1715.8" y="2209.1" font-size="38.68" fill="#000" text-anchor="end" textLength="93.7" lengthAdjust="spacingAndGlyphs">1,088</text>
<text y="2276.1" font-size="43.17" fill="#000"><tspan x="172.6" textLength="175.5" lengthAdjust="spacingAndGlyphs">Sikatuna</tspan> <tspan x="359.2" textLength="136.5" lengthAdjust="spacingAndGlyphs">Village</tspan></text>
<text x="938.8" y="2268.3" font-size="21" fill="#C55A11" stroke="#C55A11" stroke-width="2.4" stroke-linejoin="round" text-anchor="middle" textLength="9.6" lengthAdjust="spacingAndGlyphs">-</text>
<text x="1188.1" y="2273.2" font-size="38.68" fill="#767171" text-anchor="end" textLength="20.8" lengthAdjust="spacingAndGlyphs">8</text>
<text x="1451.9" y="2273.2" font-size="38.68" fill="#548235" text-anchor="end" textLength="93.7" lengthAdjust="spacingAndGlyphs">1,661</text>
<text x="1715.8" y="2273.2" font-size="38.68" fill="#000" text-anchor="end" textLength="93.7" lengthAdjust="spacingAndGlyphs">1,669</text>
<text y="2340.2" font-size="43.17" fill="#000"><tspan x="172.6" textLength="119.9" lengthAdjust="spacingAndGlyphs">South</tspan> <tspan x="303.6" textLength="162.7" lengthAdjust="spacingAndGlyphs">Triangle</tspan></text>
<text x="987.2" y="2337.3" font-size="38.68" fill="#C55A11" text-anchor="end" textLength="20.8" lengthAdjust="spacingAndGlyphs">1</text>
<text x="1188.1" y="2337.3" font-size="38.68" fill="#767171" text-anchor="end" textLength="20.8" lengthAdjust="spacingAndGlyphs">8</text>
<text x="1451.9" y="2337.3" font-size="38.68" fill="#548235" text-anchor="end" textLength="93.7" lengthAdjust="spacingAndGlyphs">3,090</text>
<text x="1715.8" y="2337.3" font-size="38.68" fill="#000" text-anchor="end" textLength="93.7" lengthAdjust="spacingAndGlyphs">3,099</text>
<text x="172.6" y="2404.3" font-size="43.17" fill="#000" textLength="153.8" lengthAdjust="spacingAndGlyphs">Tatalon</text>
<text x="987.2" y="2401.4" font-size="38.68" fill="#C55A11" text-anchor="end" textLength="20.8" lengthAdjust="spacingAndGlyphs">1</text>
<text x="1188.1" y="2401.4" font-size="38.68" fill="#767171" text-anchor="end" textLength="41.6" lengthAdjust="spacingAndGlyphs">34</text>
<text x="1451.9" y="2401.4" font-size="38.68" fill="#548235" text-anchor="end" textLength="93.7" lengthAdjust="spacingAndGlyphs">3,275</text>
<text x="1715.8" y="2401.4" font-size="38.68" fill="#000" text-anchor="end" textLength="93.7" lengthAdjust="spacingAndGlyphs">3,310</text>
<text y="2468.3" font-size="43.17" fill="#000"><tspan x="172.6" textLength="179.4" lengthAdjust="spacingAndGlyphs">Teachers</tspan> <tspan x="363.2" textLength="138.7" lengthAdjust="spacingAndGlyphs">Village</tspan> <tspan x="513.2" textLength="84.7" lengthAdjust="spacingAndGlyphs">East</tspan></text>
<text x="938.8" y="2460.5" font-size="21" fill="#C55A11" stroke="#C55A11" stroke-width="2.4" stroke-linejoin="round" text-anchor="middle" textLength="9.6" lengthAdjust="spacingAndGlyphs">-</text>
<text x="1188.1" y="2465.4" font-size="38.68" fill="#767171" text-anchor="end" textLength="20.8" lengthAdjust="spacingAndGlyphs">2</text>
<text x="1451.9" y="2465.4" font-size="38.68" fill="#548235" text-anchor="end" textLength="62.3" lengthAdjust="spacingAndGlyphs">719</text>
<text x="1715.8" y="2465.4" font-size="38.68" fill="#000" text-anchor="end" textLength="62.3" lengthAdjust="spacingAndGlyphs">721</text>
<text y="2532.4" font-size="43.17" fill="#000"><tspan x="172.6" textLength="179.2" lengthAdjust="spacingAndGlyphs">Teachers</tspan> <tspan x="363.0" textLength="138.6" lengthAdjust="spacingAndGlyphs">Village</tspan> <tspan x="512.8" textLength="104.8" lengthAdjust="spacingAndGlyphs">West</tspan></text>
<text x="987.2" y="2529.5" font-size="38.68" fill="#C55A11" text-anchor="end" textLength="20.8" lengthAdjust="spacingAndGlyphs">1</text>
<text x="1188.1" y="2529.5" font-size="38.68" fill="#767171" text-anchor="end" textLength="20.8" lengthAdjust="spacingAndGlyphs">5</text>
<text x="1451.9" y="2529.5" font-size="38.68" fill="#548235" text-anchor="end" textLength="62.3" lengthAdjust="spacingAndGlyphs">726</text>
<text x="1715.8" y="2529.5" font-size="38.68" fill="#000" text-anchor="end" textLength="62.3" lengthAdjust="spacingAndGlyphs">732</text>
<text y="2596.5" font-size="43.17" fill="#000"><tspan x="172.6" textLength="80.1" lengthAdjust="spacingAndGlyphs">U.P.</tspan> <tspan x="264.1" textLength="166.1" lengthAdjust="spacingAndGlyphs">Campus</tspan></text>
<text x="938.8" y="2588.7" font-size="21" fill="#C55A11" stroke="#C55A11" stroke-width="2.4" stroke-linejoin="round" text-anchor="middle" textLength="9.6" lengthAdjust="spacingAndGlyphs">-</text>
<text x="1188.1" y="2593.6" font-size="38.68" fill="#767171" text-anchor="end" textLength="41.6" lengthAdjust="spacingAndGlyphs">17</text>
<text x="1451.9" y="2593.6" font-size="38.68" fill="#548235" text-anchor="end" textLength="93.7" lengthAdjust="spacingAndGlyphs">2,827</text>
<text x="1715.8" y="2593.6" font-size="38.68" fill="#000" text-anchor="end" textLength="93.7" lengthAdjust="spacingAndGlyphs">2,844</text>
<text y="2660.6" font-size="43.17" fill="#000"><tspan x="172.6" textLength="80.2" lengthAdjust="spacingAndGlyphs">U.P.</tspan> <tspan x="264.2" textLength="140.2" lengthAdjust="spacingAndGlyphs">Village</tspan></text>
<text x="987.2" y="2657.7" font-size="38.68" fill="#C55A11" text-anchor="end" textLength="20.8" lengthAdjust="spacingAndGlyphs">1</text>
<text x="1140.5" y="2652.8" font-size="21" fill="#767171" stroke="#767171" stroke-width="2.4" stroke-linejoin="round" text-anchor="middle" textLength="9.6" lengthAdjust="spacingAndGlyphs">-</text>
<text x="1451.9" y="2657.7" font-size="38.68" fill="#548235" text-anchor="end" textLength="62.3" lengthAdjust="spacingAndGlyphs">828</text>
<text x="1715.8" y="2657.7" font-size="38.68" fill="#000" text-anchor="end" textLength="62.3" lengthAdjust="spacingAndGlyphs">829</text>
<text x="172.6" y="2724.7" font-size="43.17" fill="#000" textLength="169.5" lengthAdjust="spacingAndGlyphs">Valencia</text>
<text x="938.8" y="2716.9" font-size="21" fill="#C55A11" stroke="#C55A11" stroke-width="2.4" stroke-linejoin="round" text-anchor="middle" textLength="9.6" lengthAdjust="spacingAndGlyphs">-</text>
<text x="1188.1" y="2721.8" font-size="38.68" fill="#767171" text-anchor="end" textLength="20.8" lengthAdjust="spacingAndGlyphs">5</text>
<text x="1451.9" y="2721.8" font-size="38.68" fill="#548235" text-anchor="end" textLength="93.7" lengthAdjust="spacingAndGlyphs">1,995</text>
<text x="1715.8" y="2721.8" font-size="38.68" fill="#000" text-anchor="end" textLength="93.7" lengthAdjust="spacingAndGlyphs">2,000</text>
<text y="2793.0" font-size="50.00" fill="#fff" font-style="italic"><tspan x="175.6" textLength="163.3" lengthAdjust="spacingAndGlyphs">District</tspan> <tspan x="351.4" textLength="28.0" lengthAdjust="spacingAndGlyphs">4</tspan> <tspan x="391.8" textLength="113.4" lengthAdjust="spacingAndGlyphs">Total</tspan></text>
<text x="954.9" y="2793.0" font-size="50.00" fill="#fff" font-style="italic" text-anchor="middle" textLength="52.7" lengthAdjust="spacingAndGlyphs">18</text>
<text x="1106.8" y="2793.0" font-size="50.00" fill="#fff" font-style="italic" text-anchor="middle" textLength="80.0" lengthAdjust="spacingAndGlyphs">347</text>
<text x="1372.8" y="2793.0" font-size="50.00" fill="#fff" font-style="italic" text-anchor="middle" textLength="151.8" lengthAdjust="spacingAndGlyphs">59,297</text>
<text x="1635.5" y="2793.0" font-size="50.00" fill="#fff" font-style="italic" text-anchor="middle" textLength="149.1" lengthAdjust="spacingAndGlyphs">59,662</text>
<text x="930.8" y="3053.8" font-size="30.38" fill="#000" style="font-weight:normal" text-anchor="middle" textLength="148.5" lengthAdjust="spacingAndGlyphs">Page 3 of 4</text>
</svg>
</body>
</html>
